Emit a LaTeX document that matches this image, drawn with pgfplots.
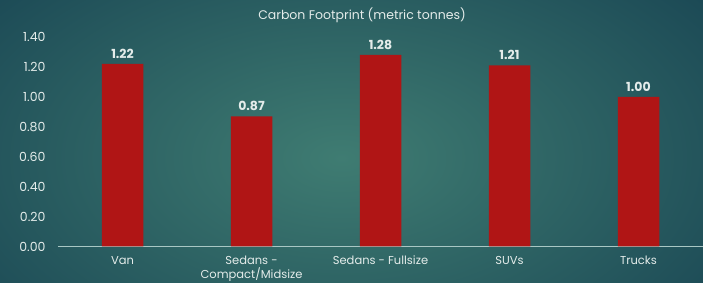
\documentclass[border=0pt]{standalone}
\usepackage{pgfplots}
\pgfplotsset{compat=1.18}
\usepackage{fontspec}
\setmainfont{Poppins}
\definecolor{bgin}{HTML}{3F7C72}
\definecolor{bgout}{HTML}{1A4754}
\definecolor{barred}{HTML}{B01515}
\definecolor{txt}{HTML}{E4ECEA}
\definecolor{axl}{HTML}{A9C7C4}
\begin{document}
\begin{tikzpicture}
\useasboundingbox (0,0) rectangle (703pt,283pt);
\shade[inner color=bgin, outer color=bgout] (-140pt,-150pt) rectangle (823pt,400pt);
\node[text=txt, font=\fontsize{12.5}{14}\selectfont] at (362pt,268pt) {Carbon Footprint (metric tonnes)};
\begin{axis}[
  at={(58pt,36.5pt)}, anchor=south west,
  width=645pt, height=209.5pt, scale only axis,
  xmin=-0.5, xmax=4.5, ymin=0, ymax=1.4,
  ytick={0,0.2,0.4,0.6,0.8,1.0,1.2,1.4},
  xtick={0,1,2,3,4},
  xticklabels={Van,{Sedans -\\Compact/Midsize},Sedans - Fullsize,SUVs,Trucks},
  axis x line=bottom, axis y line=left,
  x axis line style={-, draw=axl, line width=0.8pt},
  y axis line style={draw=none},
  major tick length=0pt,
  /pgf/number format/assume math mode=true,
  yticklabel={\pgfmathprintnumber[fixed,fixed zerofill,precision=2]{\tick}},
  yticklabel style={text=txt, font=\fontsize{12.5}{14}\selectfont, xshift=-9pt},
  xticklabel style={text=txt, font=\fontsize{11.5}{13.5}\selectfont, align=center, anchor=north, yshift=-6pt},
  ybar, bar width=41.5pt,
  nodes near coords={\pgfmathprintnumber[fixed,fixed zerofill,precision=2]{\pgfplotspointmeta}},
  nodes near coords style={text=txt, font=\bfseries\fontsize{12.5}{14}\selectfont, anchor=south, yshift=2pt},
  clip=false,
]
\addplot[fill=barred, draw=none] coordinates {(0,1.22) (1,0.87) (2,1.28) (3,1.21) (4,1.00)};
\end{axis}
\end{tikzpicture}
\end{document}
